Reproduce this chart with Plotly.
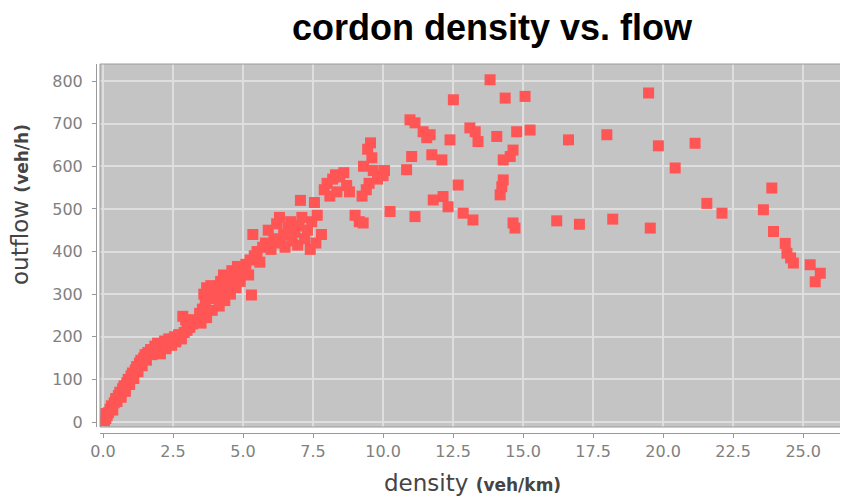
import plotly.graph_objects as go

# density (veh/km)
density = [
    0.05, 0.1, 0.15, 0.2, 0.1, 0.25, 0.3, 0.35, 0.4, 0.45, 0.5, 0.55, 0.6, 0.65, 0.7, 0.75, 0.8, 0.85,
    0.9, 0.95, 1.0, 1.05, 1.1, 1.15, 1.2, 1.25, 1.3, 1.35, 1.4, 1.45, 1.5, 1.55, 1.6, 1.7, 1.75, 1.85,
    1.9, 1.95, 2.0, 2.05, 2.1, 2.2, 2.25, 2.35, 2.45, 2.55, 2.6, 2.7, 2.8, 2.9, 3.0, 2.85, 2.95, 3.1,
    3.2, 3.3, 3.45, 3.55, 3.4, 3.65, 3.75, 3.6, 3.7, 3.85, 3.95, 4.0, 4.1, 4.2, 4.3, 4.25, 4.4, 4.5,
    4.6, 4.7, 4.8, 4.9, 5.0, 5.1, 5.2, 5.3, 5.25, 5.4, 5.35, 5.5, 5.6, 5.7, 5.8, 5.9, 6.0, 6.1, 6.2,
    6.3, 6.35, 6.45, 6.5, 6.6, 6.7, 6.75, 6.85, 6.95, 7.0, 7.05, 7.1, 7.2, 7.3, 7.4, 7.45, 7.55, 7.6,
    7.65, 7.8, 7.9, 8.0, 8.1, 8.2, 8.3, 8.35, 8.45, 8.6, 8.7, 8.8, 9.0, 9.15, 9.29, 9.25, 9.3, 9.4,
    9.45, 9.5, 9.55, 9.6, 9.65, 9.8, 10.0, 10.05, 10.25, 10.84, 11.02, 10.96, 11.14, 11.14, 11.43,
    11.56, 11.68, 11.74, 11.79, 12.1, 12.14, 12.32, 12.39, 12.51, 12.68, 12.86, 13.1, 13.21, 13.29,
    13.39, 13.82, 14.06, 14.18, 14.24, 14.29, 14.29, 14.36, 14.54, 14.64, 14.64, 14.71, 14.77, 15.07,
    15.25, 16.2, 16.62, 17.01, 17.99, 18.2, 19.48, 19.54, 19.83, 20.43, 21.14, 21.56, 22.1, 23.58,
    23.88, 23.94, 24.36, 24.42, 24.55, 24.65, 25.25, 25.43, 25.61,
    3.5, 3.7, 3.9, 4.15, 4.35, 4.55, 4.75,
]

# outflow (veh/h)
outflow = [
    3, 8, 15, 22, 20, 30, 38, 28, 45, 55, 48, 62, 70, 58, 78, 85, 72, 92,
    100, 88, 108, 115, 102, 122, 130, 118, 138, 145, 132, 150, 158, 145, 163, 170, 158, 178,
    168, 185, 175, 160, 182, 190, 172, 195, 180, 200, 188, 205, 195, 210, 215, 248, 240, 222,
    230, 240, 255, 265, 235, 280, 290, 300, 315, 320, 305, 290, 310, 330, 345, 300, 320, 335,
    355, 340, 365, 330, 350, 370, 345, 298, 380, 390, 440, 400, 375, 410, 420, 450, 405, 430, 465,
    480, 420, 440, 410, 455, 470, 425, 445, 415, 460, 520, 480, 430, 450, 405, 470, 515, 420,
    485, 440, 545, 560, 530, 570, 580, 540, 575, 585, 555, 540, 485, 470, 467, 530, 600, 545,
    640, 560, 655, 620, 590, 570, 578, 590, 494, 592, 623, 709, 702, 482, 681,
    667, 674, 627, 521, 615, 529, 505, 662, 756, 556, 490, 690, 474, 681,
    658, 803, 670, 533, 552, 568, 615, 760, 623, 638, 467, 455, 681, 764,
    685, 472, 662, 464, 674, 476, 772, 455, 648, 596, 654, 513, 490, 498,
    549, 447, 419, 396, 385, 373, 369, 329, 349,
    232, 245, 262, 272, 285, 300, 315,
]

x_ticks = [0, 2.5, 5, 7.5, 10, 12.5, 15, 17.5, 20, 22.5, 25]
x_tick_labels = ["0.0", "2.5", "5.0", "7.5", "10.0", "12.5", "15.0", "17.5", "20.0", "22.5", "25.0"]
y_ticks = [0, 100, 200, 300, 400, 500, 600, 700, 800]
y_tick_labels = ["0", "100", "200", "300", "400", "500", "600", "700", "800"]

W, H = 848, 499
OFF = 8  # page body margin offset
left_px, top_px, bottom_px, right_px = 100 - OFF, 64 - OFF, 427 - OFF, 848 - OFF
xdom = [left_px / W, right_px / W]
ydom = [1 - bottom_px / H, 1 - top_px / H]

fig = go.Figure()
fig.add_trace(go.Scatter(
    x=density, y=outflow, mode="markers",
    marker=dict(symbol="square", size=11, color="#ff5555", line=dict(width=0)),
    hoverinfo="x+y",
))

tickfont = dict(family="DejaVu Sans", size=16, color="#808080")

fig.update_layout(
    width=W, height=H,
    margin=dict(l=0, r=0, t=0, b=0),
    paper_bgcolor="white",
    plot_bgcolor="#c4c4c4",
    showlegend=False,
    xaxis=dict(
        domain=xdom, range=[-0.107, 26.6],
        tickmode="array", tickvals=x_ticks, ticktext=x_tick_labels,
        showgrid=True, gridcolor="#dedede", gridwidth=1.5,
        zeroline=False, showline=True, linecolor="#999999", linewidth=1,
        ticks="outside", ticklen=4, tickcolor="#999999",
        anchor="free", position=1 - (433 - OFF) / H,
        tickfont=tickfont, automargin=False,
    ),
    yaxis=dict(
        domain=ydom, range=[-11.7, 840],
        tickmode="array", tickvals=y_ticks, ticktext=y_tick_labels,
        showgrid=True, gridcolor="#dedede", gridwidth=1.5,
        zeroline=False, showline=True, linecolor="#999999", linewidth=1,
        ticks="outside", ticklen=4, tickcolor="#999999",
        anchor="free", position=(96 - OFF) / W,
        tickfont=tickfont, automargin=False, ticklabelstandoff=6,
    ),
    shapes=[dict(
        type="rect", xref="paper", yref="paper",
        x0=xdom[0], x1=xdom[1], y0=ydom[0], y1=ydom[1],
        line=dict(color="#9a9a9a", width=1), fillcolor="rgba(0,0,0,0)", layer="above",
    )],
    annotations=[
        dict(text="<b>cordon density vs. flow</b>", x=(492 - OFF) / W, y=1 - (27 - OFF) / H,
             xref="paper", yref="paper", xanchor="center", yanchor="middle",
             showarrow=False, font=dict(family="Liberation Sans", size=36, color="black")),
        dict(text="outflow <b><span style='font-size:17px'>(veh/h)</span></b>",
             x=(20 - OFF) / W, y=1 - (205 - OFF) / H, xref="paper", yref="paper",
             xanchor="center", yanchor="middle", textangle=-90, showarrow=False,
             font=dict(family="DejaVu Sans", size=23, color="#444444")),
        dict(text="density <b><span style='font-size:17px'>(veh/km)</span></b>",
             x=(472 - OFF) / W, y=1 - (483 - OFF) / H, xref="paper", yref="paper",
             xanchor="center", yanchor="middle", showarrow=False,
             font=dict(family="DejaVu Sans", size=23, color="#444444")),
    ],
)

fig.write_html("out.html")
